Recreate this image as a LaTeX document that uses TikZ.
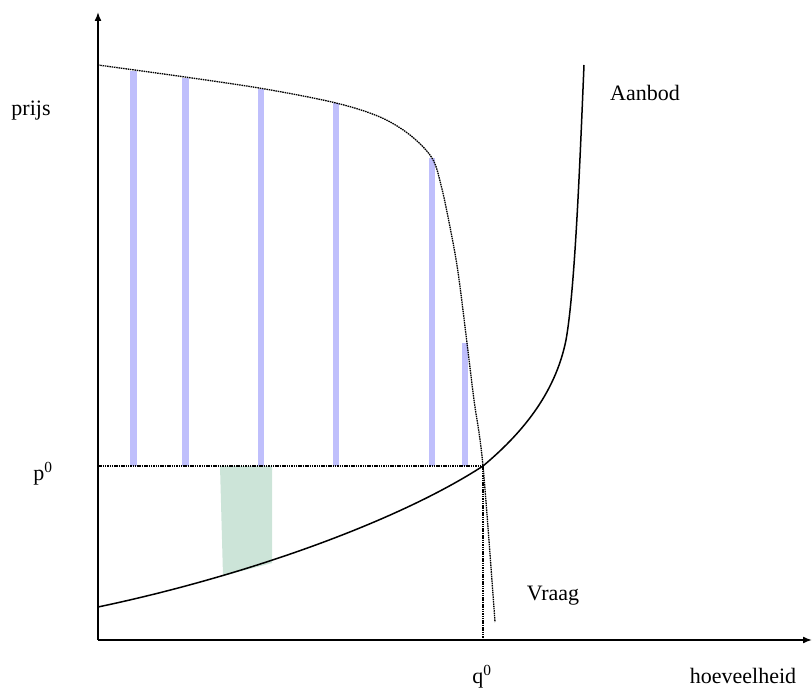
\documentclass[tikz,border=0pt]{standalone}
\usepackage{fontspec}
\setmainfont{Liberation Serif}
\usepackage{tikz}
\usetikzlibrary{arrows.meta,positioning,calc}
\usepackage{xcolor}
\definecolor{barblue}{RGB}{191,191,252}
\definecolor{surplusgreen}{RGB}{204,228,216}

\begin{document}
\begin{tikzpicture}[
  x=1pt, y=-1pt,
  axis/.style={-{Latex[length=9pt,width=7pt]}, line width=1.6pt},
  curve/.style={line width=1.5pt},
  dotline/.style={line width=1.3pt, dash pattern=on 1.5pt off 0.8pt},
  bar/.style={fill=barblue, draw=none},
  lbl/.style={font=\fontsize{22}{26}\selectfont, anchor=base, inner sep=0pt}
]
\useasboundingbox (0,0) rectangle (812,693);

\coordinate (O) at (98,640);
\coordinate (ytop) at (98,12);
\coordinate (xend) at (812,640);
\coordinate (E) at (483,466);
\coordinate (pE) at (98,466);
\coordinate (qE) at (483,640);
\coordinate (s0) at (98,607);
\coordinate (s1) at (566,340);
\coordinate (s2) at (584,65);

% surplus bars under the demand curve
\foreach \bx/\btop in {133.5/71, 185.5/78, 261/89, 336/103, 432/158, 465/343}
  \fill[bar] (\bx-3.3,\btop) rectangle (\bx+3.3,466);

% producer surplus strip
\fill[surplusgreen] (220,466) -- (272,466) -- (272,563) -- (223,576) -- cycle;

% demand
\draw[dotline] plot[smooth, tension=0.55] coordinates {(98,65) (185,77) (265,89)
  (336,103) (380,117) (410,135) (432,158) (441,185) (450,227) (458,272)
  (467,343) (474,400) (483,466) (495,622)};

% supply
\draw[curve] (s0) .. controls (250,575) and (400,520) .. (E)
  .. controls (520,435) and (555,395) .. (s1)
  .. controls (575,290) and (580,160) .. (s2);

\draw[dotline] (pE) -- (E);
\draw[dotline] (E) -- (qE);

\draw[axis] (O) -- (ytop);
\draw[axis] (O) -- (xend);

\node[lbl] (prijs) at (31,116) {prijs};
\node[lbl] (p0) at (43,480) {p\textsuperscript{0}};
\node[lbl] (aanbod) at (645,100) {Aanbod};
\node[lbl] (vraag) at (553,600) {Vraag};
\node[lbl] (q0) at (482,683) {q\textsuperscript{0}};
\node[lbl] (hoev) at (743,683) {hoeveelheid};
\end{tikzpicture}
\end{document}
